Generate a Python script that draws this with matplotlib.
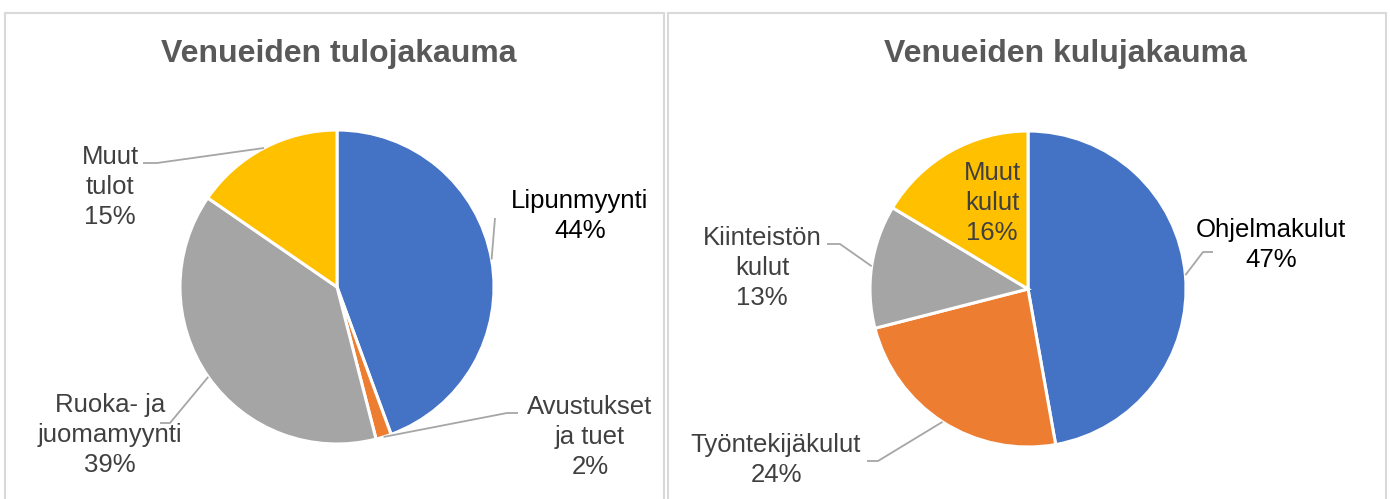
import numpy as np
import matplotlib
matplotlib.use("Agg")
import matplotlib.pyplot as plt
from matplotlib.patches import Rectangle

# ---- data ----
income_titles = "Venueiden tulojakauma"
income_labels = ["Lipunmyynti", "Avustukset\nja tuet", "Ruoka- ja\njuomamyynti", "Muut\ntulot"]
income_values = [44.4, 1.6, 38.6, 15.4]

cost_title = "Venueiden kulujakauma"
cost_labels = ["Ohjelmakulut", "Työntekijäkulut", "Kiinteistön\nkulut", "Muut\nkulut"]
cost_values = [47.2, 23.8, 12.6, 16.4]

colors = ["#4472C4", "#ED7D31", "#A5A5A5", "#FFC000"]

W, H = 1390, 499
fig = plt.figure(figsize=(W / 100, H / 100), dpi=100)
ax = fig.add_axes([0, 0, 1, 1])

def py(y):
    return H - y

FONT = "Liberation Sans"

# panel borders
ax.add_patch(Rectangle((5, -20), 659, py(13) + 20, fill=False, ec="#D9D9D9", lw=1.5))
ax.add_patch(Rectangle((668, -20), 718, py(13) + 20, fill=False, ec="#D9D9D9", lw=1.5))

def draw_pie(values, labels, center, radius, title, title_x, label_pos, label_colors, leaders):
    wedges, _ = ax.pie(values, colors=colors, startangle=90, counterclock=False,
                       center=(center[0], py(center[1])), radius=radius,
                       wedgeprops=dict(edgecolor="white", linewidth=2.2), frame=True)
    pcts = [f"{v:.0f}%" for v in values]
    for w, lab, pct, pos, col, lead in zip(wedges, labels, pcts, label_pos, label_colors, leaders):
        ax.text(pos[0], py(pos[1]), f"{lab}\n{pct}", ha="center", va="center",
                fontsize=18.5, color=col, family=FONT, linespacing=1.3)
        if lead is not None:
            mid = np.deg2rad((w.theta1 + w.theta2) / 2)
            sx = center[0] + radius * np.cos(mid)
            sy = py(center[1]) + radius * np.sin(mid)
            xs = [sx] + [p[0] for p in lead]
            ys = [sy] + [py(p[1]) for p in lead]
            ax.plot(xs, ys, color="#A6A6A6", lw=1.3, solid_capstyle="butt")
    ax.text(title_x, py(54), title, ha="center", va="center", fontsize=23,
            fontweight="bold", color="#595959", family=FONT)

draw_pie(income_values, income_labels, (337, 287), 157, income_titles, 339,
         [(580, 216), (590, 437), (110, 435), (110, 187)],
         ["#000000", "#404040", "#404040", "#404040"],
         [[(495, 218)], [(507, 413), (518, 413)], [(170, 423), (160, 423)], [(157, 163), (143, 163)]])

draw_pie(cost_values, cost_labels, (1028, 289), 158, cost_title, 1065,
         [(1271, 245), (776, 460), (762, 268), (992, 203)],
         ["#000000", "#404040", "#404040", "#404040"],
         [[(1203, 252), (1213, 252)], [(878, 461), (867, 461)], [(840, 244), (827, 244)], None])

ax.set_xlim(0, W)
ax.set_ylim(0, H)
ax.set_aspect("equal")
ax.axis("off")

fig.savefig("out.png", dpi=100, facecolor="white")
